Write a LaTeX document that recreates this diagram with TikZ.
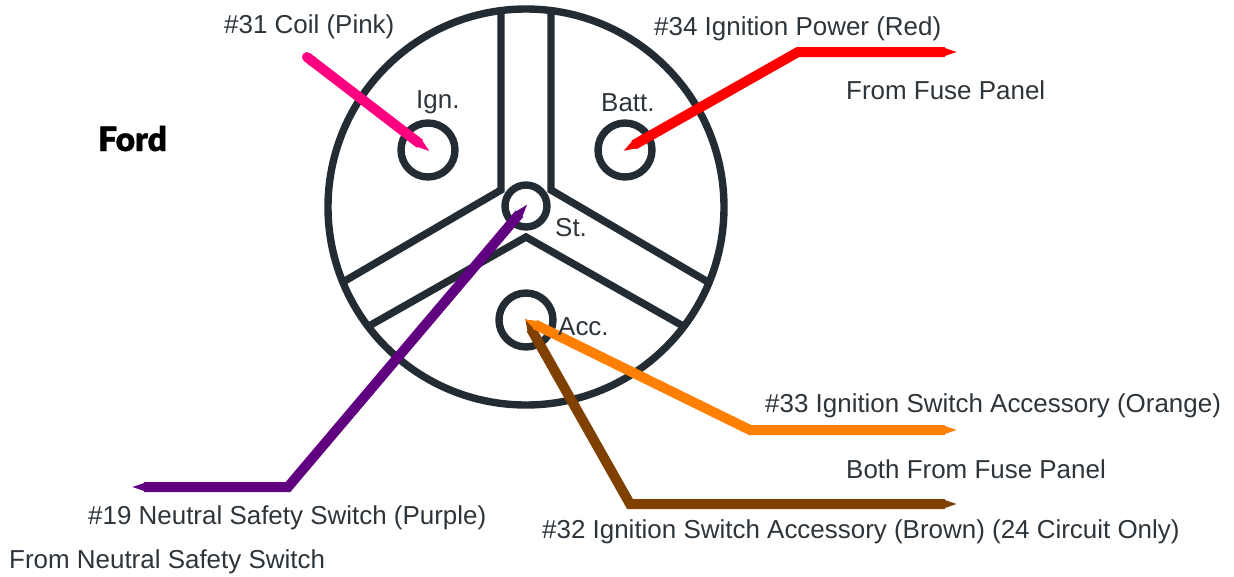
\documentclass[tikz,border=0pt]{standalone}
\usepackage{fontspec}
\usepackage{xcolor}
\setmainfont{Liberation Sans}
\newfontfamily\fordfont[FakeBold=1.2]{Lato Black}
\usetikzlibrary{arrows.meta}
\definecolor{ink}{RGB}{35,44,51}
\definecolor{labelink}{RGB}{45,52,58}
\definecolor{pinkwire}{RGB}{255,0,128}
\definecolor{redwire}{RGB}{255,0,0}
\definecolor{orangewire}{RGB}{255,128,0}
\definecolor{brownwire}{RGB}{128,64,0}
\definecolor{purplewire}{RGB}{96,0,128}
\tikzset{
  part/.style={line width=7.4pt, draw=ink},
  pin/.style={circle, line width=7.4pt, draw=ink, inner sep=0pt, outer sep=0pt},
  wire/.style={line width=10pt, line join=miter, shorten >=-4pt, shorten <=-4pt, {Triangle[length=15pt,width=7pt]}-{Triangle[length=15pt,width=7pt]}},
  tag/.style={anchor=base west, inner sep=0pt, text=labelink, font=\fontsize{25.95}{26}\selectfont},
}
\begin{document}
\begin{tikzpicture}[x=1pt,y=-1pt]
\useasboundingbox (0,0) rectangle (1234,576);
\node[pin, minimum size=396pt] (wheel) at (526,207) {};

\coordinate (topL) at (501,10);
\coordinate (topR) at (551,10);
\coordinate (hubL) at (501,190);
\coordinate (hubR) at (551,190);
\coordinate (hubB) at (526,237);
\coordinate (rimL) at (343,282);
\coordinate (rimR) at (708,282);
\coordinate (rimBL) at (369,326);
\coordinate (rimBR) at (683,326);

\draw[part] (topL) -- (hubL) -- (rimL);
\draw[part] (topR) -- (hubR) -- (rimR);
\draw[part] (rimBL) -- (hubB) -- (rimBR);

\node[pin, minimum size=54pt] (ign) at (428,150) {};
\node[pin, minimum size=54pt] (batt) at (625,150) {};
\node[pin, minimum size=42pt] (st) at (526,206) {};
\node[pin, minimum size=54pt] (acc) at (526,320) {};

\coordinate (coilEnd) at (303,54);
\coordinate (redBend) at (798,52);
\coordinate (redEnd) at (955,52);
\coordinate (brownBend) at (630,504);
\coordinate (brownEnd) at (955,504);
\coordinate (orangeBend) at (750,430);
\coordinate (orangeEnd) at (955,430);
\coordinate (purpleBend) at (288,487);
\coordinate (purpleEnd) at (134,487);

\draw[wire, pinkwire, shorten <=0pt, {Round Cap}-{Triangle[length=15pt,width=7pt]}] (coilEnd) -- (ign.center);
\draw[wire, redwire] (batt.center) -- (redBend) -- (redEnd);
\draw[wire, brownwire] (acc.center) -- (brownBend) -- (brownEnd);
\draw[wire, orangewire] (acc.center) -- (orangeBend) -- (orangeEnd);
\draw[wire, purplewire] (st.center) -- (purpleBend) -- (purpleEnd);

\node[tag] (coil) at (224,33) {\#31 Coil (Pink)};
\node[tag] (power) at (654,35) {\#34 Ignition Power (Red)};
\node[tag] (fuse) at (846,99) {From Fuse Panel};
\node[tag] (ignlabel) at (416,108) {Ign.};
\node[tag] (battlabel) at (601,111) {Batt.};
\node[tag] (stlabel) at (555,236) {St.};
\node[tag] (acclabel) at (558,335) {Acc.};
\node[tag] (orange) at (765,412) {\#33 Ignition Switch Accessory (Orange)};
\node[tag] (both) at (846,478) {Both From Fuse Panel};
\node[tag] (neutral) at (88,524) {\#19 Neutral Safety Switch (Purple)};
\node[tag] (brown) at (542,538) {\#32 Ignition Switch Accessory (Brown) (24 Circuit Only)};
\node[tag] (fromneutral) at (9,568) {From Neutral Safety Switch};
\node[anchor=base west, inner sep=0pt, font=\fordfont\fontsize{33.5}{34}\selectfont] (ford) at (98,151) {Ford};
\end{tikzpicture}
\end{document}
